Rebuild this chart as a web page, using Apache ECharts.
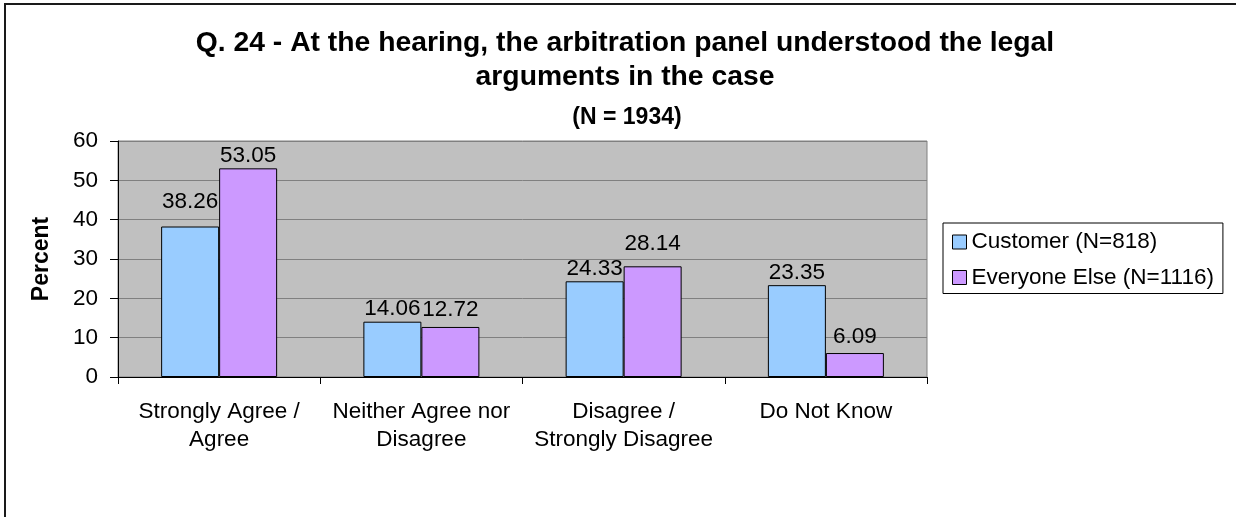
<!DOCTYPE html>
<html>
<head>
<meta charset="utf-8">
<script src="https://cdn.jsdelivr.net/npm/echarts@6/dist/echarts.min.js"></script>
<style>
  html, body { margin: 0; padding: 0; background: #fff; overflow: hidden; }
  #chart { width: 1236px; height: 517px; }
</style>
</head>
<body>
<div id="chart"></div>
<script>
// 数据
const categories = ['Strongly Agree /\nAgree', 'Neither Agree nor\nDisagree', 'Disagree /\nStrongly Disagree', 'Do Not Know']
const customerValues = [38.26, 14.06, 24.33, 23.35]
const everyoneValues = [53.05, 12.72, 28.14, 6.09]
const seriesNames = ['Customer (N=818)', 'Everyone Else (N=1116)']
const yTicks = [0, 10, 20, 30, 40, 50, 60]

// 标签额外上移（像素，样式用）
const customerLabelLift = [12, 0, 0, 0]
const everyoneLabelLift = [0, 5, 10, 4]

const FONT = 'Liberation Sans, Arial, sans-serif'
const LABEL_SIZE = 22.5

const chart = echarts.init(document.getElementById('chart'))

const barLabel = {
  show: true,
  position: 'top',
  distance: 1,
  color: '#000',
  fontSize: LABEL_SIZE,
  fontFamily: FONT,
  formatter: p => p.value.toFixed(2)
}

const withLift = (values, lifts) =>
  values.map((v, i) => ({ value: v, label: { offset: [0, -lifts[i]] } }))

chart.setOption({
  animation: false,
  textStyle: { fontFamily: FONT },
  graphic: [
    {
      type: 'rect',
      shape: { x: 5, y: 4, width: 1300, height: 600 },
      style: { fill: 'none', stroke: '#1a1a1a', lineWidth: 2 },
      silent: true
    }
  ],
  title: [
    {
      text: 'Q. 24 - At the hearing, the arbitration panel understood the legal\narguments in the case',
      left: 620,
      top: 21,
      textAlign: 'center',
      textStyle: { fontSize: 28.3, fontWeight: 'bold', color: '#000', lineHeight: 34, fontFamily: FONT }
    },
    {
      text: '(N = 1934)',
      left: 622,
      top: 101,
      textAlign: 'center',
      textStyle: { fontSize: 23, fontWeight: 'bold', color: '#000', lineHeight: 24, fontFamily: FONT }
    }
  ],
  legend: {
    orient: 'vertical',
    left: 943,
    top: 223,
    padding: [7, 9, 4, 9],
    itemGap: 11.5,
    itemWidth: 14,
    itemHeight: 14,
    borderColor: '#000',
    borderWidth: 1,
    icon: 'rect',
    itemStyle: { borderColor: '#000', borderWidth: 1 },
    textStyle: { fontSize: LABEL_SIZE, color: '#000', fontFamily: FONT, lineHeight: 24 },
    data: seriesNames
  },
  grid: {
    left: 118,
    right: 309,
    top: 141,
    bottom: 140,
    show: true,
    backgroundColor: '#c0c0c0',
    borderColor: '#808080',
    borderWidth: 1
  },
  xAxis: {
    type: 'category',
    data: categories,
    axisLine: { lineStyle: { color: '#000' } },
    axisTick: { show: true, interval: 0, length: 7, lineStyle: { color: '#000' } },
    axisLabel: { interval: 0, color: '#000', fontSize: LABEL_SIZE, fontFamily: FONT, lineHeight: 28, margin: 21 }
  },
  yAxis: {
    type: 'value',
    min: 0,
    max: 60,
    interval: 10,
    name: 'Percent',
    nameLocation: 'middle',
    nameGap: 65,
    nameTextStyle: { fontSize: 23, fontWeight: 'bold', color: '#000', fontFamily: FONT },
    axisLine: { show: true, lineStyle: { color: '#000' } },
    axisTick: { show: true, length: 8, lineStyle: { color: '#000' } },
    axisLabel: { color: '#000', fontSize: LABEL_SIZE, fontFamily: FONT, margin: 20, formatter: v => (yTicks.includes(v) ? String(v) : '') },
    splitLine: { show: true, lineStyle: { color: '#808080', width: 1 } }
  },
  series: [
    {
      name: seriesNames[0],
      type: 'bar',
      data: withLift(customerValues, customerLabelLift),
      barWidth: 58,
      barGap: '0%',
      itemStyle: { color: '#99ccff', borderColor: '#000', borderWidth: 1 },
      label: barLabel
    },
    {
      name: seriesNames[1],
      type: 'bar',
      data: withLift(everyoneValues, everyoneLabelLift),
      barWidth: 58,
      itemStyle: { color: '#cc99ff', borderColor: '#000', borderWidth: 1 },
      label: barLabel
    }
  ]
})
</script>
</body>
</html>
